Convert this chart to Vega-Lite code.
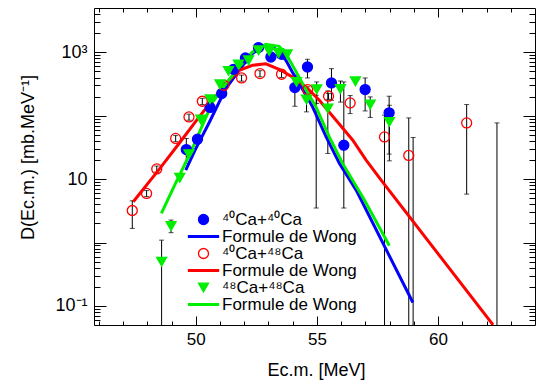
{
  "$schema": "https://vega.github.io/schema/vega-lite/v6.json",
  "width": 441,
  "height": 317,
  "autosize": {"type": "none"},
  "padding": {"left": 94, "top": 8, "right": 2, "bottom": 62},
  "background": "white",
  "config": {
    "font": "Liberation Sans",
    "view": {"stroke": "black", "strokeWidth": 1},
    "axis": {"grid": false, "domain": false, "tickColor": "black", "labelColor": "black", "titleColor": "black", "tickWidth": 1, "labelOverlap": false, "labelFlush": false}
  },
  "datasets": {
    "pts": [
      {"s": "40Ca+40Ca", "x": 49.61, "v": 29.2, "lo": 17.7, "hi": 43.7},
      {"s": "40Ca+40Ca", "x": 50.07, "v": 42.7},
      {"s": "40Ca+40Ca", "x": 50.59, "v": 135},
      {"s": "40Ca+40Ca", "x": 51.07, "v": 224},
      {"s": "40Ca+40Ca", "x": 51.56, "v": 540},
      {"s": "40Ca+40Ca", "x": 52.05, "v": 813},
      {"s": "40Ca+40Ca", "x": 52.59, "v": 1186},
      {"s": "40Ca+40Ca", "x": 53.10, "v": 843},
      {"s": "40Ca+40Ca", "x": 53.54, "v": 930},
      {"s": "40Ca+40Ca", "x": 54.09, "v": 278, "lo": 141, "hi": 435},
      {"s": "40Ca+40Ca", "x": 54.61, "v": 587, "lo": 394, "hi": 776},
      {"s": "40Ca+40Ca", "x": 54.97, "v": null, "lo": 3.5, "hi": 210},
      {"s": "40Ca+40Ca", "x": 55.60, "v": 329, "lo": 175, "hi": 553},
      {"s": "40Ca+40Ca", "x": 56.11, "v": 34.3, "lo": 3.5, "hi": 341},
      {"s": "40Ca+40Ca", "x": 56.99, "v": 258, "lo": 119, "hi": 394},
      {"s": "40Ca+40Ca", "x": 57.98, "v": 111, "lo": 24.8, "hi": 203},
      {"s": "40Ca+40Ca", "x": 58.97, "v": null, "lo": 0.001, "hi": 45.4},
      {"s": "40Ca+48Ca", "x": 47.38, "v": 3.2, "lo": 1.67, "hi": 4.55},
      {"s": "40Ca+48Ca", "x": 47.97, "v": 5.95, "lo": 5.3, "hi": 6.6},
      {"s": "40Ca+48Ca", "x": 48.39, "v": 14.5, "lo": 12.9, "hi": 16.1},
      {"s": "40Ca+48Ca", "x": 49.17, "v": 43.8, "lo": 39, "hi": 48.6},
      {"s": "40Ca+48Ca", "x": 49.72, "v": 95.6, "lo": 85, "hi": 106},
      {"s": "40Ca+48Ca", "x": 50.27, "v": 169, "lo": 150, "hi": 188},
      {"s": "40Ca+48Ca", "x": 51.16, "v": 302, "lo": 269, "hi": 335},
      {"s": "40Ca+48Ca", "x": 51.89, "v": 394, "lo": 351, "hi": 437},
      {"s": "40Ca+48Ca", "x": 52.65, "v": 462, "lo": 411, "hi": 513},
      {"s": "40Ca+48Ca", "x": 53.54, "v": 451, "lo": 401, "hi": 500},
      {"s": "40Ca+48Ca", "x": 54.62, "v": 258, "lo": 230, "hi": 286},
      {"s": "40Ca+48Ca", "x": 55.48, "v": 203, "lo": 181, "hi": 225},
      {"s": "40Ca+48Ca", "x": 56.37, "v": 159, "lo": 108, "hi": 208},
      {"s": "40Ca+48Ca", "x": 57.79, "v": 46.3, "lo": 0.001, "hi": 102},
      {"s": "40Ca+48Ca", "x": 58.79, "v": 23.6, "lo": 0.001, "hi": 92.3},
      {"s": "40Ca+48Ca", "x": 61.18, "v": 77, "lo": 5.8, "hi": 150},
      {"s": "40Ca+48Ca", "x": 62.43, "v": null, "lo": 0.001, "hi": 77},
      {"s": "48Ca+48Ca", "x": 48.59, "v": 0.499, "lo": 0.001, "hi": 1.09},
      {"s": "48Ca+48Ca", "x": 48.98, "v": 1.82, "lo": 1.43, "hi": 2.26},
      {"s": "48Ca+48Ca", "x": 49.34, "v": 10.5},
      {"s": "48Ca+48Ca", "x": 49.72, "v": 24.8},
      {"s": "48Ca+48Ca", "x": 50.21, "v": 87},
      {"s": "48Ca+48Ca", "x": 50.59, "v": 182},
      {"s": "48Ca+48Ca", "x": 51.00, "v": 313},
      {"s": "48Ca+48Ca", "x": 51.35, "v": 508},
      {"s": "48Ca+48Ca", "x": 51.76, "v": 640},
      {"s": "48Ca+48Ca", "x": 52.18, "v": 748},
      {"s": "48Ca+48Ca", "x": 52.59, "v": 1075},
      {"s": "48Ca+48Ca", "x": 53.03, "v": 1048},
      {"s": "48Ca+48Ca", "x": 53.42, "v": 975},
      {"s": "48Ca+48Ca", "x": 53.77, "v": 930},
      {"s": "48Ca+48Ca", "x": 54.16, "v": 341},
      {"s": "48Ca+48Ca", "x": 54.57, "v": 180, "lo": 115, "hi": 210},
      {"s": "48Ca+48Ca", "x": 54.99, "v": 261, "lo": 156, "hi": 341},
      {"s": "48Ca+48Ca", "x": 55.45, "v": 130, "lo": 25.4, "hi": 246},
      {"s": "48Ca+48Ca", "x": 55.97, "v": 264, "lo": 164, "hi": 353},
      {"s": "48Ca+48Ca", "x": 56.59, "v": 349},
      {"s": "48Ca+48Ca", "x": 57.20, "v": 150, "lo": 94, "hi": 198},
      {"s": "48Ca+48Ca", "x": 57.99, "v": 80, "lo": 19.4, "hi": 146}
    ],
    "curves": [
      {"s": "Wong 40Ca+40Ca", "x": 49.586, "v": 13.9},
      {"s": "Wong 40Ca+40Ca", "x": 49.97, "v": 28.6},
      {"s": "Wong 40Ca+40Ca", "x": 50.55, "v": 77.3},
      {"s": "Wong 40Ca+40Ca", "x": 51.24, "v": 268},
      {"s": "Wong 40Ca+40Ca", "x": 51.79, "v": 521},
      {"s": "Wong 40Ca+40Ca", "x": 52.07, "v": 721},
      {"s": "Wong 40Ca+40Ca", "x": 52.34, "v": 955},
      {"s": "Wong 40Ca+40Ca", "x": 52.62, "v": 1135},
      {"s": "Wong 40Ca+40Ca", "x": 52.89, "v": 1289},
      {"s": "Wong 40Ca+40Ca", "x": 53.17, "v": 1221},
      {"s": "Wong 40Ca+40Ca", "x": 53.44, "v": 1000},
      {"s": "Wong 40Ca+40Ca", "x": 53.72, "v": 748},
      {"s": "Wong 40Ca+40Ca", "x": 53.99, "v": 484},
      {"s": "Wong 40Ca+40Ca", "x": 54.27, "v": 321},
      {"s": "Wong 40Ca+40Ca", "x": 54.82, "v": 138},
      {"s": "Wong 40Ca+40Ca", "x": 55.38, "v": 46.3},
      {"s": "Wong 40Ca+40Ca", "x": 55.93, "v": 17.7},
      {"s": "Wong 40Ca+40Ca", "x": 56.62, "v": 6.71},
      {"s": "Wong 40Ca+40Ca", "x": 58.96, "v": 0.113},
      {"s": "Wong 40Ca+48Ca", "x": 47.42, "v": 4.39},
      {"s": "Wong 40Ca+48Ca", "x": 48.48, "v": 14.1},
      {"s": "Wong 40Ca+48Ca", "x": 49.31, "v": 36.5},
      {"s": "Wong 40Ca+48Ca", "x": 50.14, "v": 95.7},
      {"s": "Wong 40Ca+48Ca", "x": 50.69, "v": 175},
      {"s": "Wong 40Ca+48Ca", "x": 51.24, "v": 321},
      {"s": "Wong 40Ca+48Ca", "x": 51.79, "v": 521},
      {"s": "Wong 40Ca+48Ca", "x": 52.34, "v": 624},
      {"s": "Wong 40Ca+48Ca", "x": 52.89, "v": 659},
      {"s": "Wong 40Ca+48Ca", "x": 53.44, "v": 540},
      {"s": "Wong 40Ca+48Ca", "x": 53.99, "v": 408},
      {"s": "Wong 40Ca+48Ca", "x": 54.55, "v": 284},
      {"s": "Wong 40Ca+48Ca", "x": 55.10, "v": 175},
      {"s": "Wong 40Ca+48Ca", "x": 55.79, "v": 85},
      {"s": "Wong 40Ca+48Ca", "x": 56.48, "v": 41.1},
      {"s": "Wong 40Ca+48Ca", "x": 57.03, "v": 19.9},
      {"s": "Wong 40Ca+48Ca", "x": 57.65, "v": 9.64},
      {"s": "Wong 40Ca+48Ca", "x": 62.27, "v": 0.0502},
      {"s": "Wong 48Ca+48Ca", "x": 48.58, "v": 2.88},
      {"s": "Wong 48Ca+48Ca", "x": 49.10, "v": 7.59},
      {"s": "Wong 48Ca+48Ca", "x": 49.83, "v": 28.6},
      {"s": "Wong 48Ca+48Ca", "x": 50.69, "v": 163},
      {"s": "Wong 48Ca+48Ca", "x": 51.24, "v": 321},
      {"s": "Wong 48Ca+48Ca", "x": 51.79, "v": 587},
      {"s": "Wong 48Ca+48Ca", "x": 52.34, "v": 1011},
      {"s": "Wong 48Ca+48Ca", "x": 52.89, "v": 1336},
      {"s": "Wong 48Ca+48Ca", "x": 53.44, "v": 1242},
      {"s": "Wong 48Ca+48Ca", "x": 53.72, "v": 954},
      {"s": "Wong 48Ca+48Ca", "x": 54.07, "v": 553},
      {"s": "Wong 48Ca+48Ca", "x": 54.41, "v": 321},
      {"s": "Wong 48Ca+48Ca", "x": 54.96, "v": 138},
      {"s": "Wong 48Ca+48Ca", "x": 55.51, "v": 46.3},
      {"s": "Wong 48Ca+48Ca", "x": 56.06, "v": 17.7},
      {"s": "Wong 48Ca+48Ca", "x": 56.96, "v": 4.67},
      {"s": "Wong 48Ca+48Ca", "x": 57.99, "v": 0.891}
    ]
  },
  "resolve": {"axis": {"x": "independent", "y": "independent"}},
  "layer": [
    {
      "data": {"name": "pts"},
      "transform": [{"filter": "datum.hi != null"}],
      "mark": {"type": "rule", "color": "black", "strokeWidth": 1, "clip": true},
      "encoding": {
        "x": {"field": "x", "type": "quantitative", "scale": {"domain": [45.8, 64], "nice": false, "zero": false},
          "axis": {"orient": "bottom", "values": [50, 55, 60], "ticks": false, "labelFontSize": 17, "labelPadding": 6.5,
            "title": "Ec.m. [MeV]", "titleFontSize": 18, "titleFontWeight": "normal", "titleX": 222, "titleY": 50, "titleBaseline": "alphabetic", "titleAlign": "center"}},
        "y": {"field": "lo", "type": "quantitative", "scale": {"type": "log", "domain": [0.05, 5000], "nice": false},
          "axis": {"orient": "left", "values": [0.1, 1, 10, 100, 1000], "ticks": false, "labelFontSize": 18, "labelPadding": 7,
            "labelExpr": "datum.value == 1000 ? '10³' : datum.value == 10 ? '10' : datum.value == 0.1 ? '10⁻¹' : ''",
            "title": "D(Ec.m.) [mb.MeV⁻¹]", "titleFontSize": 18, "titleFontWeight": "normal", "titleX": -66, "titleY": 149, "titleAngle": -90, "titleBaseline": "middle", "titleAlign": "center"}},
        "y2": {"field": "hi"}
      }
    },
    {
      "data": {"name": "pts"},
      "transform": [{"filter": "datum.lo != null"}],
      "mark": {"type": "tick", "orient": "horizontal", "color": "black", "size": 5, "thickness": 1, "clip": true},
      "encoding": {
        "x": {"field": "x", "type": "quantitative", "scale": {"domain": [45.8, 64], "nice": false, "zero": false},
          "axis": {"orient": "bottom", "values": [50, 55, 60], "labels": false, "tickSize": -9, "title": null}},
        "y": {"field": "lo", "type": "quantitative", "scale": {"type": "log", "domain": [0.05, 5000], "nice": false},
          "axis": {"orient": "left", "values": [0.1, 1, 10, 100, 1000], "labels": false, "tickSize": -12, "title": null}}
      }
    },
    {
      "data": {"name": "pts"},
      "transform": [{"filter": "datum.hi != null"}],
      "mark": {"type": "tick", "orient": "horizontal", "color": "black", "size": 5, "thickness": 1, "clip": true},
      "encoding": {
        "x": {"field": "x", "type": "quantitative", "scale": {"domain": [45.8, 64], "nice": false, "zero": false},
          "axis": {"orient": "bottom", "values": [46, 47, 48, 49, 51, 52, 53, 54, 56, 57, 58, 59, 61, 62, 63], "labels": false, "tickSize": -4, "title": null}},
        "y": {"field": "hi", "type": "quantitative", "scale": {"type": "log", "domain": [0.05, 5000], "nice": false},
          "axis": {"orient": "left", "values": [0.06, 0.07, 0.08, 0.09, 0.2, 0.3, 0.4, 0.5, 0.6, 0.7, 0.8, 0.9, 2, 3, 4, 5, 6, 7, 8, 9, 20, 30, 40, 50, 60, 70, 80, 90, 200, 300, 400, 500, 600, 700, 800, 900, 2000, 3000, 4000], "labels": false, "tickSize": -6, "title": null}}
      }
    },
    {
      "data": {"name": "curves"},
      "mark": {"type": "line", "clip": true},
      "encoding": {
        "x": {"field": "x", "type": "quantitative", "scale": {"domain": [45.8, 64], "nice": false, "zero": false},
          "axis": {"orient": "top", "values": [50, 55, 60], "labels": false, "tickSize": -9, "title": null}},
        "y": {"field": "v", "type": "quantitative", "scale": {"type": "log", "domain": [0.05, 5000], "nice": false},
          "axis": {"orient": "right", "values": [0.1, 1, 10, 100, 1000], "labels": false, "tickSize": -12, "title": null}},
        "strokeWidth": {"value": 3},
        "stroke": {"field": "s", "type": "nominal",
          "scale": {"domain": ["40Ca+40Ca", "Wong 40Ca+40Ca", "40Ca+48Ca", "Wong 40Ca+48Ca", "48Ca+48Ca", "Wong 48Ca+48Ca"], "range": ["#0000ff", "#0000ff", "#ff0000", "#ff0000", "#00ee00", "#00ee00"]},
          "legend": {"title": null, "orient": "none", "legendX": 101, "legendY": 203, "padding": 0, "symbolSize": 100, "symbolStrokeWidth": 1.3, "symbolFillColor": "transparent", "symbolOpacity": 1, "labelFontSize": 17, "labelColor": "black", "labelOffset": 10, "rowPadding": -1,
            "labelExpr": "datum.value=='40Ca+40Ca' ? '⁴⁰Ca+⁴⁰Ca' : datum.value=='40Ca+48Ca' ? '⁴⁰Ca+⁴⁸Ca' : datum.value=='48Ca+48Ca' ? '⁴⁸Ca+⁴⁸Ca' : 'Formule de Wong'"}}
      }
    },
    {
      "data": {"name": "pts"},
      "mark": {"type": "point", "size": 100, "opacity": 1, "strokeWidth": 1.3, "clip": true},
      "encoding": {
        "x": {"field": "x", "type": "quantitative", "scale": {"domain": [45.8, 64], "nice": false, "zero": false},
          "axis": {"orient": "top", "values": [46, 47, 48, 49, 51, 52, 53, 54, 56, 57, 58, 59, 61, 62, 63], "labels": false, "tickSize": -4, "title": null}},
        "y": {"field": "v", "type": "quantitative", "scale": {"type": "log", "domain": [0.05, 5000], "nice": false},
          "axis": {"orient": "right", "values": [0.06, 0.07, 0.08, 0.09, 0.2, 0.3, 0.4, 0.5, 0.6, 0.7, 0.8, 0.9, 2, 3, 4, 5, 6, 7, 8, 9, 20, 30, 40, 50, 60, 70, 80, 90, 200, 300, 400, 500, 600, 700, 800, 900, 2000, 3000, 4000], "labels": false, "tickSize": -6, "title": null}},
        "stroke": {"field": "s", "type": "nominal",
          "scale": {"domain": ["40Ca+40Ca", "Wong 40Ca+40Ca", "40Ca+48Ca", "Wong 40Ca+48Ca", "48Ca+48Ca", "Wong 48Ca+48Ca"], "range": ["#0000ff", "#0000ff", "#ff0000", "#ff0000", "#00ee00", "#00ee00"]},
          "legend": {"title": null, "orient": "none", "legendX": 101, "legendY": 203, "padding": 0, "symbolSize": 100, "symbolStrokeWidth": 1.3, "symbolFillColor": "transparent", "symbolOpacity": 1, "labelFontSize": 17, "labelColor": "black", "labelOffset": 10, "rowPadding": -1,
            "labelExpr": "datum.value=='40Ca+40Ca' ? '⁴⁰Ca+⁴⁰Ca' : datum.value=='40Ca+48Ca' ? '⁴⁰Ca+⁴⁸Ca' : datum.value=='48Ca+48Ca' ? '⁴⁸Ca+⁴⁸Ca' : 'Formule de Wong'"}},
        "fill": {"field": "s", "type": "nominal",
          "scale": {"domain": ["40Ca+40Ca", "Wong 40Ca+40Ca", "40Ca+48Ca", "Wong 40Ca+48Ca", "48Ca+48Ca", "Wong 48Ca+48Ca"], "range": ["#0000ff", "#0000ff", "transparent", "#ff0000", "#00ee00", "#00ee00"]},
          "legend": {"title": null, "orient": "none", "legendX": 101, "legendY": 203, "padding": 0, "symbolSize": 100, "symbolStrokeWidth": 1.3, "symbolFillColor": "transparent", "symbolOpacity": 1, "labelFontSize": 17, "labelColor": "black", "labelOffset": 10, "rowPadding": -1,
            "labelExpr": "datum.value=='40Ca+40Ca' ? '⁴⁰Ca+⁴⁰Ca' : datum.value=='40Ca+48Ca' ? '⁴⁰Ca+⁴⁸Ca' : datum.value=='48Ca+48Ca' ? '⁴⁸Ca+⁴⁸Ca' : 'Formule de Wong'"}},
        "shape": {"field": "s", "type": "nominal",
          "scale": {"domain": ["40Ca+40Ca", "Wong 40Ca+40Ca", "40Ca+48Ca", "Wong 40Ca+48Ca", "48Ca+48Ca", "Wong 48Ca+48Ca"], "range": ["circle", "M-3,-0.17L3,-0.17L3,0.17L-3,0.17Z", "circle", "M-3,-0.17L3,-0.17L3,0.17L-3,0.17Z", "triangle-down", "M-3,-0.17L3,-0.17L3,0.17L-3,0.17Z"]},
          "legend": {"title": null, "orient": "none", "legendX": 101, "legendY": 203, "padding": 0, "symbolSize": 100, "symbolStrokeWidth": 1.3, "symbolFillColor": "transparent", "symbolOpacity": 1, "labelFontSize": 17, "labelColor": "black", "labelOffset": 10, "rowPadding": -1,
            "labelExpr": "datum.value=='40Ca+40Ca' ? '⁴⁰Ca+⁴⁰Ca' : datum.value=='40Ca+48Ca' ? '⁴⁰Ca+⁴⁸Ca' : datum.value=='48Ca+48Ca' ? '⁴⁸Ca+⁴⁸Ca' : 'Formule de Wong'"}}
      }
    }
  ]
}
